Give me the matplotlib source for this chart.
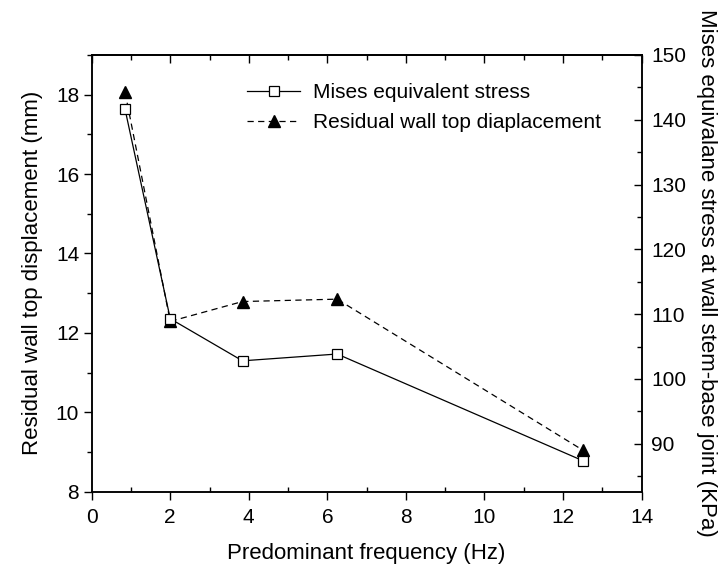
import matplotlib
matplotlib.use("Agg")
import matplotlib.pyplot as plt
from matplotlib.ticker import MultipleLocator

plt.rcParams['font.family'] = ['Liberation Sans', 'DejaVu Sans']

# data
freq = [0.85, 2.0, 3.84, 6.25, 12.5]           # Hz
disp = [18.06, 12.29, 12.79, 12.85, 9.05]       # mm, left axis
stress = [141.6, 109.3, 102.8, 103.85, 87.4]    # KPa, right axis

fig = plt.figure(figsize=(7.25, 5.67), dpi=100)
ax = fig.add_axes([91.7 / 725, 1 - 491.7 / 567, 549.8 / 725, 436.7 / 567])
ax2 = ax.twinx()

l1, = ax2.plot(freq, stress, '-', color='black', lw=0.9, marker='s', ms=7,
               mfc='white', mec='black', mew=0.9, label='Mises equivalent stress')
l2, = ax.plot(freq, disp, '--', color='black', lw=0.9, marker='^', ms=9,
              mfc='black', mec='black', dashes=(5, 3.5),
              label='Residual wall top diaplacement')

ax.set_xlim(0, 14)
ax.set_ylim(8, 19)

ax.xaxis.set_major_locator(MultipleLocator(2))
ax.xaxis.set_minor_locator(MultipleLocator(1))
ax.yaxis.set_major_locator(MultipleLocator(2))
ax.yaxis.set_minor_locator(MultipleLocator(1))
ax2.yaxis.set_major_locator(MultipleLocator(10))
ax2.yaxis.set_minor_locator(MultipleLocator(5))
ax2.set_ylim(82.6, 150)

ax.tick_params(axis='x', which='major', direction='out', length=6, width=1, top=False,
               labelsize=15, pad=6)
ax.tick_params(axis='x', which='minor', direction='in', length=3.5, width=1, top=False)
ax.tick_params(axis='y', which='major', direction='out', length=6, width=1, right=False,
               labelsize=15, pad=3)
ax.tick_params(axis='y', which='minor', direction='out', length=3.5, width=1, right=False)
ax2.tick_params(axis='y', which='major', direction='in', length=6, width=1,
                labelsize=15, pad=7)
ax2.tick_params(axis='y', which='minor', direction='in', length=3.5, width=1)

top = ax.secondary_xaxis('top')
top.xaxis.set_major_locator(MultipleLocator(2))
top.xaxis.set_minor_locator(MultipleLocator(1))
top.tick_params(which='major', direction='in', length=6, width=1, labeltop=False)
top.tick_params(which='minor', direction='in', length=3.5, width=1)

for a in (ax, ax2):
    for s in a.spines.values():
        s.set_linewidth(1.1)
top.spines['top'].set_linewidth(1.1)

ax.set_xlabel('Predominant frequency (Hz)', fontsize=16, labelpad=11)
ax.set_ylabel('Residual wall top displacement (mm)', fontsize=16, labelpad=9)
ax2.set_ylabel('Mises equivalane stress at wall stem-base joint (KPa)', fontsize=16,
               rotation=-90, labelpad=22)

ax.legend(handles=[l1, l2], loc='upper left', bbox_to_anchor=(0.2825, 0.935),
          frameon=False, fontsize=15, handlelength=2.55, handletextpad=0.62,
          labelspacing=0.5, borderaxespad=0, borderpad=0)

fig.savefig('out.png', dpi=100)
